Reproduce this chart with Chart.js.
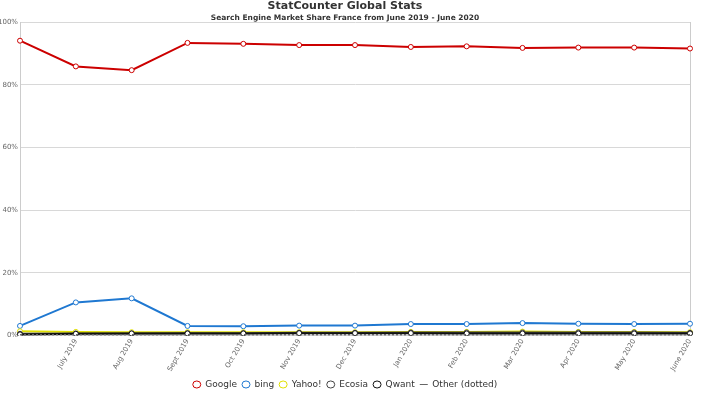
<!DOCTYPE html>
<html>
<head>
<meta charset="utf-8">
<script src="https://cdn.jsdelivr.net/npm/chart.js@4"></script>
<style>
  html, body { margin: 0; padding: 0; background: #fff; }
  #wrap { width: 710px; height: 399px; }
</style>
</head>
<body>
<div id="wrap"><canvas id="chart"></canvas></div>
<script>
const months = ["June 2019", "July 2019", "Aug 2019", "Sept 2019", "Oct 2019", "Nov 2019", "Dec 2019",
    "Jan 2020", "Feb 2020", "Mar 2020", "Apr 2020", "May 2020", "June 2020"];

const google = [94.1, 85.9, 84.7, 93.4, 93.1, 92.7, 92.7, 92.1, 92.3, 91.8, 91.9, 91.9, 91.6];
const bing   = [3.1, 10.6, 11.9, 3.1, 3.0, 3.2, 3.2, 3.7, 3.7, 4.0, 3.8, 3.7, 3.8];
const yahoo  = [1.4, 1.2, 1.1, 1.1, 1.1, 1.1, 1.1, 1.2, 1.2, 1.3, 1.2, 1.2, 1.1];
const ecosia = [0.6, 0.7, 0.7, 0.8, 0.8, 0.9, 0.9, 1.0, 1.0, 1.0, 1.0, 1.0, 0.9];
const qwant  = [0.4, 0.6, 0.7, 0.7, 0.7, 0.8, 0.8, 0.8, 0.7, 0.7, 0.7, 0.7, 0.7];
const other  = [0.3, 0.3, 0.3, 0.3, 0.3, 0.3, 0.3, 0.3, 0.3, 0.3, 0.3, 0.3, 0.3];

const yTicks = [0, 20, 40, 60, 80, 100];

function series(label, data, color, dotted) {
    return {
        label: label,
        data: data,
        borderColor: color,
        backgroundColor: "#fff",
        borderWidth: dotted ? 1.5 : 2,
        borderDash: dotted ? [2, 2] : [],
        pointRadius: dotted ? 0 : 2.5,
        pointBorderWidth: 1,
        pointBorderColor: color,
        pointBackgroundColor: "#fff",
        pointStyle: dotted ? "line" : "circle",
        tension: 0
    };
}

new Chart(document.getElementById("chart"), {
    type: "line",
    data: {
        labels: months,
        datasets: [
            series("Other (dotted)", other, "#666666", true),
            series("Qwant", qwant, "#111111"),
            series("Ecosia", ecosia, "#444444"),
            series("Yahoo!", yahoo, "#e0e000"),
            series("bing", bing, "#1f78d1"),
            series("Google", google, "#cc0000")
        ]
    },
    options: {
        responsive: true,
        maintainAspectRatio: false,
        animation: false,
        layout: { padding: { left: 0, right: 20, top: 0, bottom: 0 } },
        plugins: {
            title: {
                display: true,
                text: "StatCounter Global Stats",
                color: "#333",
                font: { family: "DejaVu Sans", size: 11, weight: "bold" },
                padding: { top: 0, bottom: 0 }
            },
            subtitle: {
                display: true,
                text: "Search Engine Market Share France from June 2019 - June 2020",
                color: "#333",
                font: { family: "DejaVu Sans", size: 7.5, weight: "bold" },
                padding: { top: 0, bottom: 0 }
            },
            legend: {
                position: "bottom",
                reverse: true,
                labels: {
                    usePointStyle: true,
                    pointStyleWidth: 8,
                    boxHeight: 5,
                    padding: 5,
                    color: "#333",
                    font: { family: "DejaVu Sans", size: 9 }
                }
            },
            tooltip: { enabled: false }
        },
        scales: {
            x: {
                offset: false,
                grid: { display: false, drawTicks: false },
                border: { color: "#ccc" },
                ticks: {
                    color: "#666",
                    font: { family: "DejaVu Sans", size: 7 },
                    maxRotation: 60,
                    minRotation: 60,
                    autoSkip: false,
                    padding: 2,
                    callback: function (v, i) { return i === 0 ? "" : months[i]; }
                }
            },
            y: {
                min: 0,
                max: 100,
                afterBuildTicks: s => { s.ticks = yTicks.map(v => ({ value: v })); },
                grid: { color: "#d8d8d8", drawTicks: false },
                border: { color: "#ccc" },
                ticks: {
                    color: "#666",
                    padding: 2,
                    font: { family: "DejaVu Sans", size: 7 },
                    callback: v => v + "%"
                },
                afterFit: s => { s.width = 20; }
            },
            y2: {
                position: "right",
                min: 0,
                max: 100,
                grid: { display: false },
                border: { color: "#ccc" },
                ticks: { display: false },
                afterFit: s => { s.width = 0; }
            }
        }
    }
});
</script>
</body>
</html>
